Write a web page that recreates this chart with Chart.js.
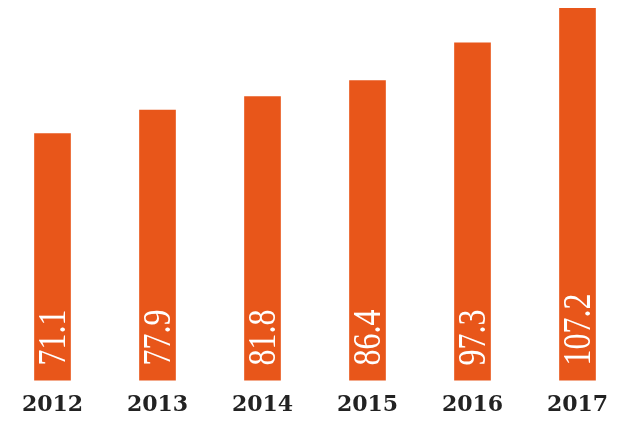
<!DOCTYPE html>
<html>
<head>
<meta charset="utf-8">
<script src="https://cdn.jsdelivr.net/npm/chart.js@4/dist/chart.umd.min.js"></script>
<style>
  html, body { margin: 0; padding: 0; background: #fff; }
  #wrap { width: 640px; height: 431px; }
</style>
</head>
<body>
<div id="wrap"><canvas id="barChart" width="640" height="431"></canvas></div>
<script>
// Данные
const years = ['2012', '2013', '2014', '2015', '2016', '2017'];
const values = [71.1, 77.9, 81.8, 86.4, 97.3, 107.2];

const barColor = '#E8561A';

// Подписи значений внутри столбцов (повёрнутые)
const valueLabels = {
    id: 'valueLabels',
    afterDatasetsDraw(chart) {
        const ctx = chart.ctx;
        const meta = chart.getDatasetMeta(0);
        ctx.save();
        ctx.fillStyle = '#ffffff';
        ctx.font = '40px "Liberation Serif"';
        ctx.textAlign = 'left';
        ctx.textBaseline = 'middle';
        meta.data.forEach((bar, i) => {
            ctx.save();
            ctx.translate(bar.x + 1, bar.base - 15);
            ctx.rotate(-Math.PI / 2);
            ctx.scale(0.8, 1);
            ctx.fillText(String(values[i]), 0, 1);
            ctx.restore();
        });
        ctx.restore();
    }
};

function createBarChart() {
    const ctx = document.getElementById('barChart').getContext('2d');
    new Chart(ctx, {
        type: 'bar',
        data: {
            labels: years,
            datasets: [{
                data: values,
                backgroundColor: barColor,
                borderWidth: 0,
                barThickness: 36
            }]
        },
        options: {
            responsive: false,
            animation: false,
            layout: {
                padding: { top: 0, left: 0, right: 10, bottom: 2 }
            },
            plugins: {
                legend: { display: false },
                tooltip: { enabled: false }
            },
            scales: {
                x: {
                    grid: { display: false, drawTicks: false },
                    border: { display: false },
                    ticks: {
                        padding: 11,
                        color: '#222222',
                        font: { family: '"DejaVu Serif", serif', size: 22, weight: 'bold' }
                    }
                },
                y: {
                    display: false,
                    min: 0,
                    max: 109.6
                }
            }
        },
        plugins: [valueLabels]
    });
}

createBarChart();
</script>
</body>
</html>
